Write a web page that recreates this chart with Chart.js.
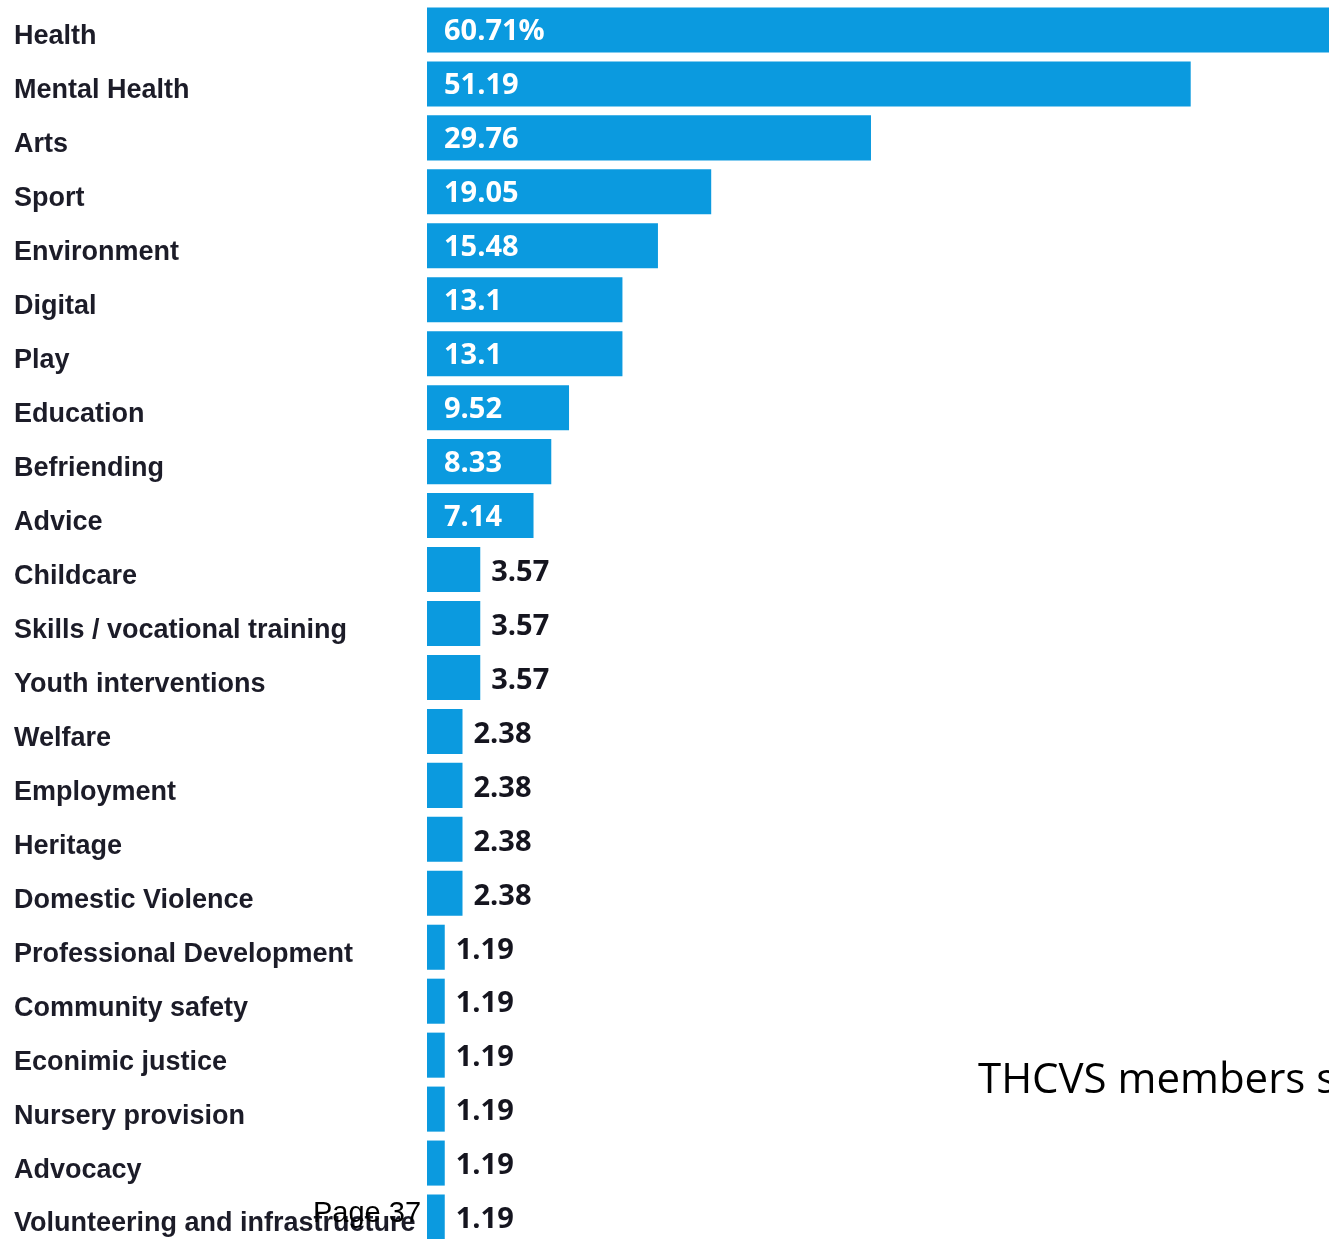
<!DOCTYPE html>
<html>
    <head>
        <title></title>
        <script src="https://cdn.jsdelivr.net/npm/chart.js"></script>
        <style>
          body { margin: 0; overflow: hidden; background: #fff; }
          #wrap { position: relative; width: 1329px; height: 1245px; }
          .note { position: absolute; white-space: nowrap; color: #000; }
        </style>
    </head>
    <body>
        <div id="wrap">
          <canvas id="myChart"></canvas>
          <div class="note" style="left:978px; top:1048px; font: 42px 'Open Sans', sans-serif;">THCVS members s</div>
          <div class="note" style="left:313px; top:1196px; font: 29px 'Liberation Sans', sans-serif;">Page 37</div>
        </div>

        <script>
          const areas = ['Health', 'Mental Health', 'Arts', 'Sport', 'Environment', 'Digital', 'Play',
            'Education', 'Befriending', 'Advice', 'Childcare', 'Skills / vocational training',
            'Youth interventions', 'Welfare', 'Employment', 'Heritage', 'Domestic Violence',
            'Professional Development', 'Community safety', 'Econimic justice', 'Nursery provision',
            'Advocacy', 'Volunteering and infrastructure'];
          const percents = [60.71, 51.19, 29.76, 19.05, 15.48, 13.1, 13.1, 9.52, 8.33, 7.14, 3.57, 3.57,
            3.57, 2.38, 2.38, 2.38, 2.38, 1.19, 1.19, 1.19, 1.19, 1.19, 1.19];

          // small bars get their number outside, in black
          const insideFrom = 7;

          const valueLabels = {
            id: 'valueLabels',
            afterDatasetsDraw(chart){
              const ctx = chart.ctx;
              const meta = chart.getDatasetMeta(0);
              ctx.save();
              ctx.font = 'bold 29px "Open Sans", sans-serif';
              ctx.textBaseline = 'middle';
              ctx.textAlign = 'left';
              meta.data.forEach((bar, i) => {
                const v = percents[i];
                const txt = i === 0 ? v + '%' : String(v);
                if (v >= insideFrom) {
                  ctx.fillStyle = '#ffffff';
                  ctx.fillText(txt, bar.base + 17, bar.y + 2);
                } else {
                  ctx.fillStyle = '#15151f';
                  ctx.fillText(txt, bar.x + 11, bar.y + 3);
                }
              });
              ctx.restore();
            }
          };

          const ctx = document.getElementById('myChart');
          new Chart(ctx, {
            type: 'bar',
            data: {
              labels: areas,
              datasets: [{
                data: percents,
                backgroundColor: '#0b9adf',
                borderWidth: 0,
                barPercentage: 0.835,
                categoryPercentage: 1
              }]
            },
            options: {
              indexAxis: 'y',
              responsive: true,
              maintainAspectRatio: false,
              animation: false,
              layout: { padding: { top: 3, bottom: 1, left: 14, right: 0 } },
              plugins: { legend: { display: false }, tooltip: { enabled: false } },
              scales: {
                x: { display: false, min: 0, max: 60.46 },
                y: {
                  grid: { display: false },
                  border: { display: false },
                  afterFit: (scale) => {
                    scale.width = 413;
                    scale.paddingTop = 0;
                    scale.paddingBottom = 0;
                  },
                  ticks: {
                    crossAlign: 'far',
                    labelOffset: 7,
                    padding: 0,
                    color: '#1c1c28',
                    font: { family: '"Liberation Sans", sans-serif', size: 27, weight: 'bold' }
                  }
                }
              }
            },
            plugins: [valueLabels]
          });
        </script>
    </body>
</html>
